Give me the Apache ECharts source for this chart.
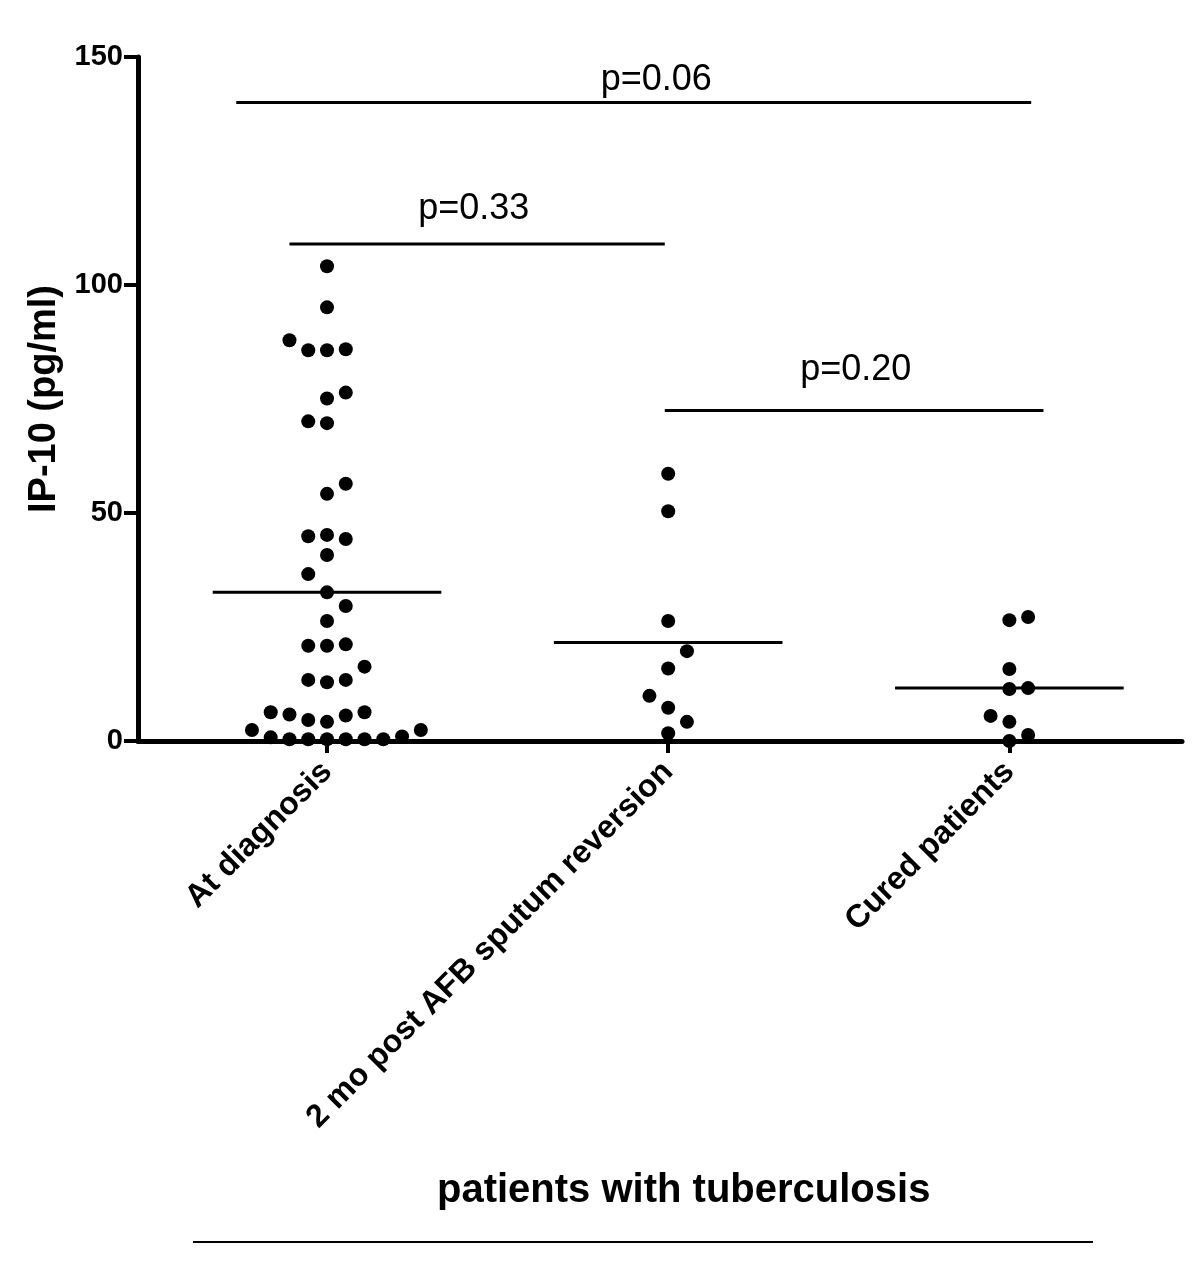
<!DOCTYPE html>
<html>
<head>
<meta charset="utf-8">
<script src="https://cdn.jsdelivr.net/npm/echarts@6/dist/echarts.min.js"></script>
<style>
html,body{margin:0;padding:0;background:#fff;}
#chart{width:1200px;height:1271px;}
</style>
</head>
<body>
<div id="chart"></div>
<script>
// ---- data ----
const categories = ['At diagnosis', '2 mo post AFB sputum reversion', 'Cured patients'];
const yTickValues = [0, 50, 100, 150];

// IP-10 values (pg/ml) per group, and the beeswarm column each dot sits in
const atDiagnosisValues = [104.1, 95.1, 87.9, 85.7, 85.7, 85.9, 76.4, 75.1, 70.1, 69.7, 56.4, 54.2,
  44.9, 45.2, 44.3, 40.8, 36.6, 32.6, 29.6, 26.3, 20.9, 20.9, 21.2, 16.3, 13.4, 12.9, 13.4,
  6.3, 5.8, 4.6, 4.2, 5.6, 6.3, 2.4, 2.4, 0.8, 0.4, 0.4, 0.4, 0.4, 0.4, 0.4, 1.0];
const atDiagnosisColumn = [0, 0, -2, -1, 0, 1, 1, 0, -1, 0, 1, 0,
  -1, 0, 1, 0, -1, 0, 1, 0, -1, 0, 1, 2, -1, 0, 1,
  -3, -2, -1, 0, 1, 2, -4, 5, -3, -2, -1, 0, 1, 2, 3, 4];

const twoMonthValues = [58.6, 50.4, 26.3, 19.7, 15.9, 9.9, 7.3, 4.2, 1.7];
const twoMonthColumn = [0, 0, 0, 1, 0, -1, 0, 1, 0];

const curedValues = [27.2, 26.5, 15.8, 11.6, 11.4, 5.5, 4.2, 1.3, 0];
const curedColumn = [1, 0, 0, 1, 0, -1, 0, 1, 0];

const groupMeans = [32.6, 21.6, 11.6];

// comparison bars
const pLabels = ['p=0.06', 'p=0.33', 'p=0.20'];
const pLevel = [140, 109, 72.5];
const pFrom = [0.734, 0.89, 1.99];
const pTo = [3.064, 1.99, 3.10];
const pTextX = [1.965, 1.43, 2.55];
const pTextY = [145.0, 116.6, 81.3];

// ---- build ----
const FONT = '"Liberation Sans", Arial, Helvetica, sans-serif';
const COL_STEP = 0.055;
const MEAN_HALF = 0.335;

function swarm(center, vals, cols) {
  return vals.map((v, i) => [center + cols[i] * COL_STEP, v]);
}
const groups = [
  swarm(1, atDiagnosisValues, atDiagnosisColumn),
  swarm(2, twoMonthValues, twoMonthColumn),
  swarm(3, curedValues, curedColumn)
];

const series = [];
groups.forEach((g, i) => {
  series.push({
    type: 'scatter', name: categories[i], data: g, symbolSize: 14,
    itemStyle: { color: '#000', opacity: 1 }, clip: false, z: 5
  });
  series.push({
    type: 'line', data: [[i + 1 - MEAN_HALF, groupMeans[i]], [i + 1 + MEAN_HALF, groupMeans[i]]],
    symbol: 'none', lineStyle: { color: '#000', width: 3 }, z: 4, silent: true
  });
});
pLabels.forEach((lab, i) => {
  series.push({
    type: 'line', data: [[pFrom[i], pLevel[i]], [pTo[i], pLevel[i]]],
    symbol: 'none', lineStyle: { color: '#000', width: 3 }, silent: true
  });
});
series.push({
  type: 'scatter', symbolSize: 1, itemStyle: { color: 'rgba(0,0,0,0)', opacity: 1 },
  data: pLabels.map((lab, i) => ({ value: [pTextX[i], pTextY[i]], name: lab })),
  label: {
    show: true, position: 'inside', formatter: p => p.name,
    fontFamily: FONT, fontSize: 36, color: '#000', fontWeight: 'normal', opacity: 1
  },
  silent: true
});

const chart = echarts.init(document.getElementById('chart'), null, { renderer: 'canvas' });
chart.setOption({
  animation: false,
  backgroundColor: '#fff',
  title: {
    text: 'patients with tuberculosis', left: 432, top: 1166,
    textStyle: { fontFamily: FONT, fontSize: 40, fontWeight: 'bold', color: '#000' }
  },
  graphic: [{
    type: 'line', shape: { x1: 193, y1: 1242, x2: 1093, y2: 1242 },
    style: { stroke: '#000', lineWidth: 2 }
  }],
  grid: { left: 138, right: 18, top: 57, bottom: 530, containLabel: false },
  xAxis: {
    type: 'value', min: 0.446, max: 3.506,
    splitLine: { show: false },
    axisLine: { show: true, lineStyle: { color: '#000', width: 5 } },
    axisTick: { show: true, customValues: [1, 2, 3], length: 12, lineStyle: { color: '#000', width: 4 } },
    axisLabel: {
      customValues: [1, 2, 3], rotate: 45, margin: 26,
      formatter: v => categories[Math.round(v) - 1] || '',
      fontFamily: FONT, fontSize: 32, fontWeight: 'bold', color: '#000'
    }
  },
  yAxis: {
    type: 'value', min: 0, max: 150,
    name: 'IP-10 (pg/ml)', nameLocation: 'middle', nameRotate: 90, nameGap: 64,
    nameTextStyle: { fontFamily: FONT, fontSize: 38, fontWeight: 'bold', color: '#000' },
    splitLine: { show: false },
    axisLine: { show: true, lineStyle: { color: '#000', width: 5 } },
    axisTick: { show: true, customValues: yTickValues, length: 14, lineStyle: { color: '#000', width: 4 } },
    axisLabel: {
      customValues: yTickValues, margin: 15,
      fontFamily: FONT, fontSize: 29, fontWeight: 'bold', color: '#000'
    }
  },
  series: series
});
</script>
</body>
</html>
